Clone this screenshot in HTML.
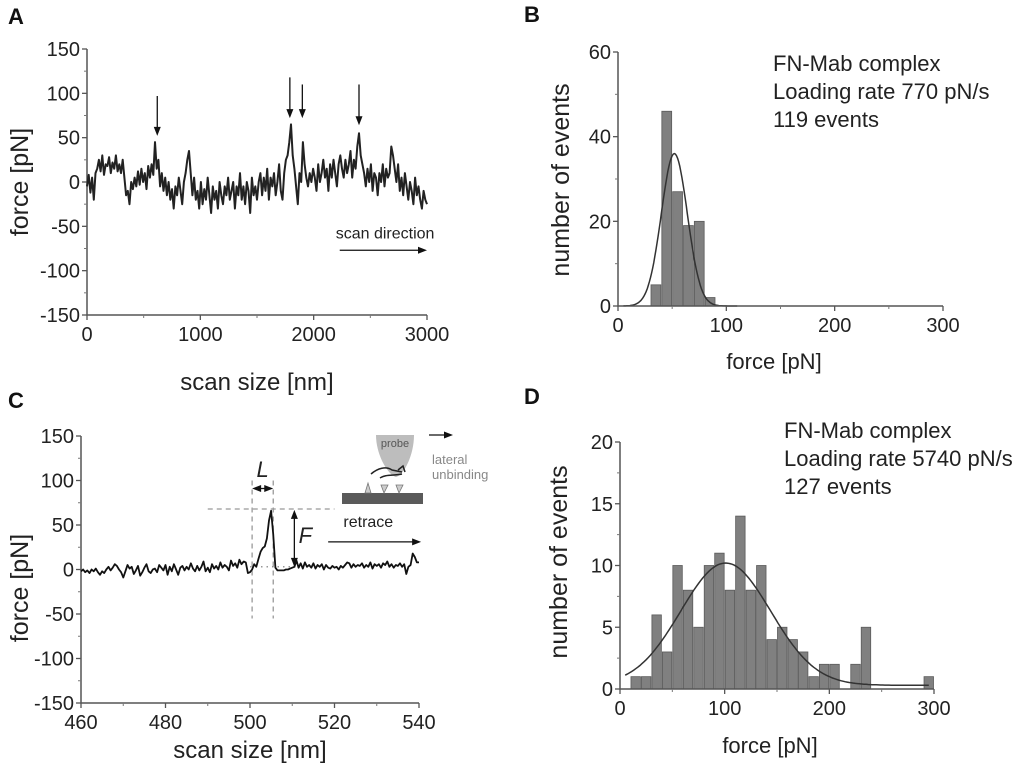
<!DOCTYPE html>
<html><head><meta charset="utf-8"><style>
html,body{margin:0;padding:0;background:#fff;}
svg{display:block;font-family:"Liberation Sans",sans-serif;}
</style></head><body>
<svg id="fig" width="1024" height="764" viewBox="0 0 1024 764" xmlns="http://www.w3.org/2000/svg">
<g id="gA"></g>
<g id="gB"></g>
<g id="gC"></g>
<g id="gD"></g>
</svg>
<script>
// Panel A data: force trace, x step 15 nm from 0 to 3000
const aStep = 15;
const aForce = [-5,8,-12,5,-20,10,15,25,12,30,8,20,18,28,10,22,15,30,12,20,
10,25,5,-15,-10,-25,0,-8,5,-5,12,-3,15,0,10,-8,18,5,20,8,
45,15,25,-5,10,-10,5,-15,0,-20,-8,-30,-5,-15,5,-10,-25,0,10,25,
35,10,-15,5,-20,-10,-30,0,-25,-8,-20,5,-15,-35,-5,-20,-10,-30,0,-15,
-25,-5,-15,5,-20,-10,0,-30,-5,-15,10,-20,-5,-25,0,-10,-35,5,-15,-5,
-20,0,10,-15,5,-10,15,-20,5,-5,10,-15,0,20,-10,-20,10,25,30,45,
65,30,15,-5,-25,10,0,45,20,5,-5,10,0,15,5,-10,20,0,10,25,
5,15,-10,20,5,25,10,-5,20,30,15,5,25,10,20,35,5,25,15,40,
55,30,20,10,-5,15,0,20,-10,10,5,-15,10,0,20,-5,15,5,10,40,
30,15,0,20,-10,5,-15,10,-5,-20,0,-10,-25,5,-15,-5,-20,-30,-10,-20,-25];
const aArrowX = [620,1790,1900,2400];
const aArrowTop = [97,118,110,110];
const aArrowTip = [52,72,72,64];
const aYTicks = [-150,-100,-50,0,50,100,150];
const aXTicks = [0,1000,2000,3000];

// Panel B data
const bBinStart = [30,40,50,60,70,80];
const bCounts = [5,46,27,19,20,2];
const bFit = [36,52,12]; // amplitude, mean, sigma
const bYTicks = [0,20,40,60];
const bXTicks = [0,100,200,300];

// Panel C data: x from 460 step 0.5
const cStart = 460, cStep = 0.5;
const cForce = [-2,0,-3,-1,-4,0,-2,1,-3,-6,-2,-4,0,3,-1,2,6,4,0,-3,
-9,-2,5,1,3,-5,-1,4,-7,-3,2,6,-2,-4,0,1,-3,5,2,-1,
5,-6,3,-2,6,0,-6,2,4,-1,3,0,7,1,-2,4,-1,3,9,-2,
2,-3,6,1,4,0,8,2,5,3,-1,10,4,7,2,11,6,9,8,-4,
-3,0,6,3,12,20,24,26,35,55,66,40,2,-1,-1,-1,-1,0,0,1,
2,3,10,2,7,1,8,3,5,2,7,1,5,3,6,0,5,2,1,4,
2,3,0,4,2,5,8,7,2,6,3,5,4,7,2,5,3,8,1,6,
4,6,2,7,5,9,3,6,2,5,4,7,3,6,-5,3,5,18,14,8,8];
const cYTicks = [-150,-100,-50,0,50,100,150];
const cXTicks = [460,480,500,520,540];

// Panel D data
const dBinStart = [10,20,30,40,50,60,70,80,90,100,110,120,130,140,150,160,170,180,190,200,220,230,290];
const dCounts = [1,1,6,3,10,8,5,10,11,8,14,8,10,4,5,4,3,1,2,2,2,5,1];
const dFit = [9.9,101,43,0.3]; // amplitude, mean, sigma, offset
const dYTicks = [0,5,10,15,20];
const dXTicks = [0,100,200,300];

const NS="http://www.w3.org/2000/svg";
function mk(parent,tag,attrs,text){const e=document.createElementNS(NS,tag);for(const k in attrs)e.setAttribute(k,attrs[k]);if(text!==undefined)e.textContent=text;parent.appendChild(e);return e;}
function lin(d0,d1,p0,p1){return v=>p0+(v-d0)/(d1-d0)*(p1-p0);}

function axes(g,xs,ys,xT,yT,x0,x1,y0,y1){
  const ax=mk(g,'path',{d:`M${xs(x0)},${ys(y1)} L${xs(x0)},${ys(y0)} L${xs(x1)},${ys(y0)}`,fill:'none',stroke:'#555','stroke-width':1.5});
  
  
  yT.forEach(v=>{
    mk(g,'line',{x1:xs(x0)-5,x2:xs(x0),y1:ys(v),y2:ys(v),stroke:'#555','stroke-width':1.3});
    const t=mk(g,'text',{x:xs(x0)-7,y:ys(v)+7,'font-size':20,'text-anchor':'end',fill:'#222'},String(v));
    
    
  });
  xT.forEach(v=>{
    mk(g,'line',{x1:xs(v),x2:xs(v),y1:ys(y0),y2:ys(y0)+5,stroke:'#555','stroke-width':1.3});
    const t=mk(g,'text',{x:xs(v),y:ys(y0)+26,'font-size':20,'text-anchor':'middle',fill:'#222'},String(v));
    
    
  });
  for(let i=0;i<yT.length-1;i++){const m=(yT[i]+yT[i+1])/2;mk(g,'line',{x1:xs(x0)-3,x2:xs(x0),y1:ys(m),y2:ys(m),stroke:'#777','stroke-width':1});}
  for(let i=0;i<xT.length-1;i++){const m=(xT[i]+xT[i+1])/2;mk(g,'line',{x1:xs(m),x2:xs(m),y1:ys(y0),y2:ys(y0)+3,stroke:'#777','stroke-width':1});}
}
function txt(g,x,y,s,size,name,extra){const t=mk(g,'text',Object.assign({x:x,y:y,'font-size':size,fill:'#222'},extra||{}),s);return t;}
function arrowHead(g,x,y,dir,col){
  dir=dir||'down';
  let p;
  if(dir==='down')p=`${x},${y} ${x-3.5},${y-9} ${x+3.5},${y-9}`;
  if(dir==='up')p=`${x},${y} ${x-3.5},${y+9} ${x+3.5},${y+9}`;
  if(dir==='right')p=`${x},${y} ${x-9},${y-3.5} ${x-9},${y+3.5}`;
  if(dir==='left')p=`${x},${y} ${x+9},${y-3.5} ${x+9},${y+3.5}`;
  mk(g,'polygon',{points:p,fill:col||'#111'});
}

// ---------- Panel A ----------
(function(){
  const g=document.getElementById('gA');
  const xs=lin(0,3000,87,427), ys=lin(-150,150,315,49);
  txt(g,8,24,'A',22,'panel-label-a',{'font-weight':'bold',fill:'#111'});
  axes(g,xs,ys,aXTicks,aYTicks,0,3000,-150,150);
  let d='';aForce.forEach((v,i)=>{d+=(i?'L':'M')+xs(i*aStep).toFixed(1)+','+ys(v).toFixed(1);});
  const p=mk(g,'path',{d:d,fill:'none',stroke:'#222','stroke-width':2,'stroke-linejoin':'round'});
  
  
  aArrowX.forEach((x,i)=>{
    const l=mk(g,'line',{x1:xs(x),x2:xs(x),y1:ys(aArrowTop[i]),y2:ys(aArrowTip[i])-6,stroke:'#111','stroke-width':1.3});
    
    
    arrowHead(g,xs(x),ys(aArrowTip[i]),'down');
  });
  txt(g,xs(2630),ys(-57)+6,'scan direction',16,'scan-direction-label',{'text-anchor':'middle'});
  mk(g,'line',{x1:xs(2230),x2:xs(2980),y1:ys(-77),y2:ys(-77),stroke:'#111','stroke-width':1.3});
  arrowHead(g,xs(3000),ys(-77),'right');
  txt(g,257,390,'scan size [nm]',24,'x-axis-title',{'text-anchor':'middle'});
  txt(g,0,0,'force [pN]',25,'y-axis-title',{'text-anchor':'middle',transform:'translate(28,182) rotate(-90)'});
})();

// ---------- Panel B ----------
(function(){
  const g=document.getElementById('gB');
  const xs=lin(0,300,618,943), ys=lin(0,60,306,52);
  txt(g,524,22,'B',22,'panel-label-b',{'font-weight':'bold',fill:'#111'});
  bCounts.forEach((c,i)=>{
    const r=mk(g,'rect',{x:xs(bBinStart[i])+0.5,y:ys(c),width:xs(bBinStart[i]+10)-xs(bBinStart[i])-1,height:ys(0)-ys(c),fill:'#808080',stroke:'#5a5a5a','stroke-width':0.8});
    
    
  });
  let d='';for(let x=5;x<=110;x+=1){const y=bFit[0]*Math.exp(-((x-bFit[1])**2)/(2*bFit[2]**2));d+=(x===5?'M':'L')+xs(x).toFixed(1)+','+ys(y).toFixed(1);}
  const f=mk(g,'path',{d:d,fill:'none',stroke:'#333','stroke-width':1.5});
  
  
  axes(g,xs,ys,bXTicks,bYTicks,0,300,0,60);
  txt(g,773,71,'FN-Mab complex',22,'annotation-complex');
  txt(g,773,99,'Loading rate 770 pN/s',22,'annotation-loading-rate');
  txt(g,773,127,'119 events',22,'annotation-events');
  txt(g,774,369,'force [pN]',22,'x-axis-title',{'text-anchor':'middle'});
  txt(g,0,0,'number of events',25,'y-axis-title',{'text-anchor':'middle',transform:'translate(569,180) rotate(-90)'});
})();

// ---------- Panel C ----------
(function(){
  const g=document.getElementById('gC');
  const xs=lin(460,540,81,419), ys=lin(-150,150,703,436);
  txt(g,8,408,'C',22,'panel-label-c',{'font-weight':'bold',fill:'#111'});
  axes(g,xs,ys,cXTicks,cYTicks,460,540,-150,150);
  const dash={stroke:'#999','stroke-width':1.3,'stroke-dasharray':'5,4',fill:'none'};
  mk(g,'line',Object.assign({x1:xs(490),x2:xs(520),y1:ys(68),y2:ys(68)},dash));
  mk(g,'line',Object.assign({x1:xs(500.5),x2:xs(500.5),y1:ys(100),y2:ys(-55)},dash));
  mk(g,'line',Object.assign({x1:xs(505.5),x2:xs(505.5),y1:ys(100),y2:ys(-55)},dash));
  mk(g,'line',{x1:xs(500),x2:xs(511),y1:ys(3),y2:ys(3),stroke:'#777','stroke-width':1.2,'stroke-dasharray':'1.5,4'});
  let d='';cForce.forEach((v,i)=>{d+=(i?'L':'M')+xs(cStart+i*cStep).toFixed(1)+','+ys(v).toFixed(1);});
  const p=mk(g,'path',{d:d,fill:'none',stroke:'#111','stroke-width':1.8,'stroke-linejoin':'round'});
  
  
  mk(g,'line',{x1:xs(500.5)+4,x2:xs(505.5)-4,y1:ys(91),y2:ys(91),stroke:'#111','stroke-width':1.3});
  arrowHead(g,xs(500.5),ys(91),'left');arrowHead(g,xs(505.5),ys(91),'right');
  txt(g,(xs(500.5)+xs(505.5))/2,ys(104),'L',22,'length-label',{'text-anchor':'middle','font-style':'italic'});
  mk(g,'line',{x1:xs(510.5),x2:xs(510.5),y1:ys(66)+5,y2:ys(4)-5,stroke:'#111','stroke-width':1.3});
  arrowHead(g,xs(510.5),ys(67),'up');arrowHead(g,xs(510.5),ys(3),'down');
  txt(g,xs(511.5),ys(30),'F',22,'force-label',{'font-style':'italic'});
  txt(g,xs(528),ys(48),'retrace',16,'retrace-label',{'text-anchor':'middle'});
  mk(g,'line',{x1:xs(518.5),x2:xs(539),y1:ys(31),y2:ys(31),stroke:'#111','stroke-width':1.3});
  arrowHead(g,xs(540.5),ys(31),'right');
  const ins=mk(g,'g',{});
  
  
  mk(ins,'path',{d:'M376,435 L414,435 C414,455 404,475 396,477 C388,475 376,455 376,435 Z',fill:'#bdbdbd'});
  mk(ins,'text',{x:395,y:447,'font-size':11,'text-anchor':'middle',fill:'#555'},'probe');
  mk(ins,'rect',{x:342,y:493,width:81,height:11,fill:'#5a5a5a'});
  mk(ins,'path',{d:'M371,474 C378,468 386,466 392,470 L402,472 M380,478 C386,474 393,476 402,474 M398,470 l5,-4 l2,6',fill:'none',stroke:'#222','stroke-width':1.5});
  mk(ins,'path',{d:'M365,493 l3,-10 l3,10 Z M384,493 l-3,-8 h7 Z M399,493 l-3,-8 h7 Z',fill:'#ccc',stroke:'#777','stroke-width':0.8});
  mk(ins,'line',{x1:429,x2:447,y1:435,y2:435,stroke:'#111','stroke-width':1.3});
  arrowHead(ins,453,435,'right');
  txt(g,432,464,'lateral',13,'lateral-label',{fill:'#888'});
  txt(g,432,479,'unbinding',13,'unbinding-label',{fill:'#888'});
  txt(g,250,758,'scan size [nm]',24,'x-axis-title',{'text-anchor':'middle'});
  txt(g,0,0,'force [pN]',25,'y-axis-title',{'text-anchor':'middle',transform:'translate(28,588) rotate(-90)'});
})();

// ---------- Panel D ----------
(function(){
  const g=document.getElementById('gD');
  const xs=lin(0,300,620,934), ys=lin(0,20,689,442);
  txt(g,524,404,'D',22,'panel-label-d',{'font-weight':'bold',fill:'#111'});
  dCounts.forEach((c,i)=>{
    const r=mk(g,'rect',{x:xs(dBinStart[i])+0.5,y:ys(c),width:xs(dBinStart[i]+10)-xs(dBinStart[i])-1,height:ys(0)-ys(c),fill:'#808080',stroke:'#5a5a5a','stroke-width':0.8});
    
    
  });
  let d='';for(let x=5;x<=295;x+=2){const y=dFit[3]+dFit[0]*Math.exp(-((x-dFit[1])**2)/(2*dFit[2]**2));d+=(x===5?'M':'L')+xs(x).toFixed(1)+','+ys(y).toFixed(1);}
  const f=mk(g,'path',{d:d,fill:'none',stroke:'#333','stroke-width':1.5});
  
  
  axes(g,xs,ys,dXTicks,dYTicks,0,300,0,20);
  txt(g,784,438,'FN-Mab complex',22,'annotation-complex');
  txt(g,784,466,'Loading rate 5740 pN/s',22,'annotation-loading-rate');
  txt(g,784,494,'127 events',22,'annotation-events');
  txt(g,770,753,'force [pN]',22,'x-axis-title',{'text-anchor':'middle'});
  txt(g,0,0,'number of events',25,'y-axis-title',{'text-anchor':'middle',transform:'translate(567,562) rotate(-90)'});
})();
</script>
</body></html>
